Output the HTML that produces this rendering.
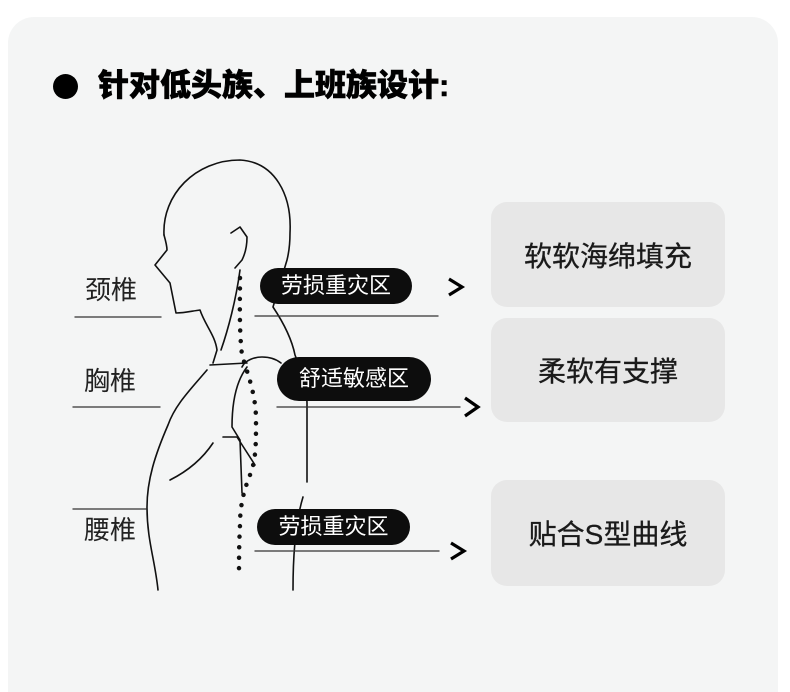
<!DOCTYPE html>
<html><head><meta charset="utf-8"><style>
html,body{margin:0;padding:0;background:#fff;width:790px;height:692px;overflow:hidden;}
body{position:relative;font-family:"Liberation Sans","Noto Sans CJK SC",sans-serif;}
.card{position:absolute;left:8px;top:17px;width:770px;height:675px;background:#f4f5f5;border-radius:26px 26px 0 0;}
.dot{position:absolute;left:53px;top:74px;width:25px;height:25px;border-radius:50%;background:#000;}
.title{position:absolute;left:98px;top:64px;font-size:31px;font-weight:900;color:#000;line-height:44px;-webkit-text-stroke:0.6px #000;}
.lbl{position:absolute;font-size:26px;color:#222;line-height:30px;}
.pill{position:absolute;background:#0d0d0d;color:#fff;border-radius:20px;font-size:22px;text-align:center;}
.box{position:absolute;left:491px;width:234px;background:#e7e7e7;border-radius:16px;font-size:28px;color:#1a1a1a;display:flex;align-items:center;justify-content:center;-webkit-text-stroke:0.3px #1a1a1a;}
</style></head><body>
<div class="card"></div>
<div class="dot"></div>
<div class="title">针对低头族、上班族设计:</div>
<svg width="790" height="692" style="position:absolute;left:0;top:0" fill="none" stroke="#111" stroke-width="1.6" stroke-linecap="round" stroke-linejoin="round">
<path d="M164,235 C162,195 195,160 240,160 C275,162 292,195 290,233 C290,245 289,252 287,260 L273,307 C285,325 292,340 295,355 C302,372 307,390 307,403 L307,482"/>
<path d="M303,497 C296,520 293,555 293,590"/>
<path d="M164,235 C166,242 167,247 167,250 L155,265 L170,283 L176,313 C185,313 192,311 200,310 C205,325 215,335 217,350 L213,363"/>
<path d="M231,233 L240,227 L247,237 C247,248 244,256 242,260 L235,268"/>
<path d="M240,270 C236,300 228,330 221,350"/>
<path d="M210,365 L247,363"/>
<path d="M242,367 C245,360 255,357 262,357 C270,357 276,359 281,363"/>
<path d="M247,367 C237,380 232,400 232,427 L240,440 L242,493"/>
<path d="M207,370 C190,390 175,405 168,425 C155,455 147,480 147,507 C147,540 155,560 158,590"/>
<path d="M170,480 C190,470 203,458 213,443"/>
<path d="M223,437 L237,437 L255,465"/>
<path d="M240,278 C240,300 239,330 242,355 C248,375 256,395 256,420 C256,445 256,460 250,475 C244,490 240,505 240,525 C239,545 239,560 239,575" stroke-width="4.5" stroke-dasharray="0 10.5"/>
<g stroke="#333" stroke-width="1.3">
<path d="M75,317 H161"/><path d="M73,407 H160"/><path d="M73,509 H146"/>
<path d="M255,316 H438"/><path d="M277,407 H460"/><path d="M255,551 H439"/>
</g>
<g stroke="#000" stroke-width="3.2" stroke-linecap="butt" stroke-linejoin="miter">
<path d="M449,279 L462,287 L449,295"/>
<path d="M465,398 L478,407 L465,416"/>
<path d="M451,543 L464,551 L451,559"/>
</g>
</svg>
<div class="lbl" style="left:85px;top:275px;">颈椎</div>
<div class="lbl" style="left:84px;top:366px;">胸椎</div>
<div class="lbl" style="left:84px;top:515px;">腰椎</div>
<div class="pill" style="left:260px;top:268px;width:152px;height:36px;line-height:36px;">劳损重灾区</div>
<div class="pill" style="left:277px;top:357px;width:154px;height:44px;line-height:44px;border-radius:22px;">舒适敏感区</div>
<div class="pill" style="left:257px;top:509px;width:153px;height:36px;line-height:36px;">劳损重灾区</div>
<div class="box" style="top:202px;height:105px;">软软海绵填充</div>
<div class="box" style="top:318px;height:104px;">柔软有支撑</div>
<div class="box" style="top:480px;height:106px;">贴合S型曲线</div>
</body></html>
